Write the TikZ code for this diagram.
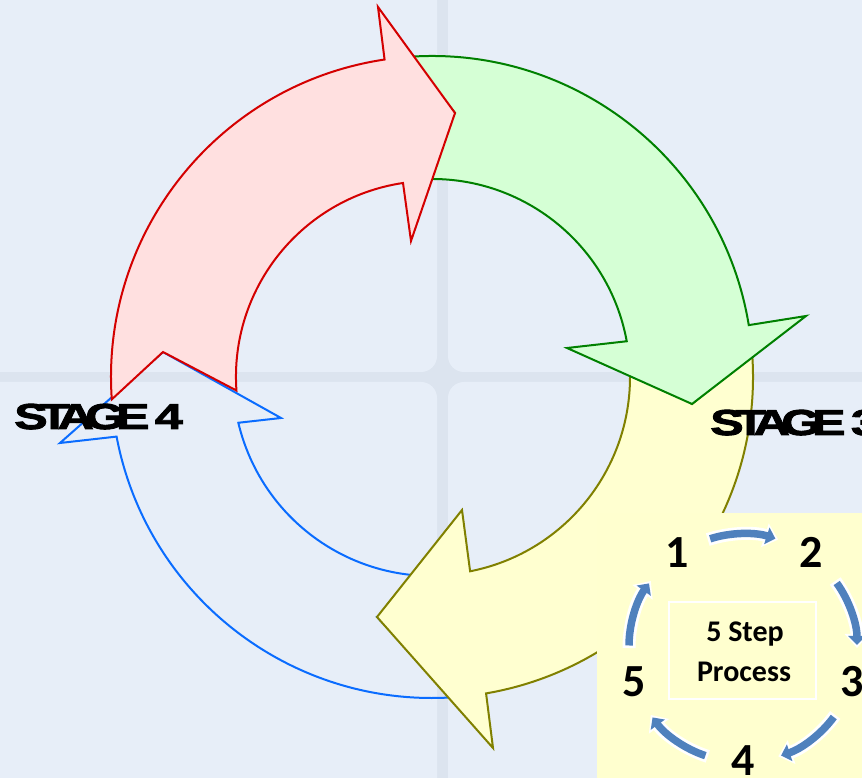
\documentclass[tikz,border=0pt]{standalone}
\usepackage{fontspec}
\usetikzlibrary{arrows.meta}
\newfontfamily\stagefont[LetterSpace=-24,FakeStretch=1.4,BoldFeatures={FakeBold=2.5,LetterSpace=-24,FakeStretch=1.4}]{Liberation Sans}
\newfontfamily\calfont{Carlito}
\definecolor{gapc}{HTML}{DCE4EF}
\definecolor{tilec}{HTML}{E7EEF8}
\definecolor{redS}{HTML}{D40000}
\definecolor{redF}{HTML}{FFE0E0}
\definecolor{greenS}{HTML}{008000}
\definecolor{greenF}{HTML}{D5FFD5}
\definecolor{yelS}{HTML}{808000}
\definecolor{yelF}{HTML}{FFFFD0}
\definecolor{bluS}{HTML}{0A6CFF}
\definecolor{insetF}{HTML}{FFFFCF}
\definecolor{stepB}{HTML}{4F81BD}
\begin{document}
\begin{tikzpicture}[x=1pt,y=1pt,
  arrowline/.style={line width=2pt, line join=miter, miter limit=20},
  redA/.style={arrowline, draw=redS, fill=redF},
  greenA/.style={arrowline, draw=greenS, fill=greenF},
  yelA/.style={arrowline, draw=yelS, fill=yelF},
  bluA/.style={arrowline, draw=bluS},
  tile/.style={fill=tilec, rounded corners=16pt},
  stage/.style={inner sep=0pt, anchor=base west, font=\stagefont\bfseries\fontsize{36}{36}\selectfont},
  digit/.style={inner sep=0pt, anchor=base, font=\calfont\bfseries\fontsize{46}{46}\selectfont},
  steptxt/.style={inner sep=0pt, anchor=base, font=\calfont\bfseries\fontsize{30}{30}\selectfont},
  stepwhite/.style={draw=white, line width=13pt, -{Triangle[width=24pt,length=14pt]}},
  stepblue/.style={draw=stepB, line width=7.5pt, shorten <=2.5pt, shorten >=3pt, -{Triangle[width=17pt,length=9pt]}}
]
\useasboundingbox (0,0) rectangle (862,778);
\clip (0,0) rectangle (862,778);
% background tiles
\fill[gapc] (0,0) rectangle (862,778);
\fill[tile] (-30,406) rectangle (437,808);
\fill[tile] (448,406) rectangle (892,808);
\fill[tile] (-30,-30) rectangle (437,396);
\fill[tile] (448,-30) rectangle (892,396);
% cycle arrows
\begin{scope}[shift={(432,401)}]
\draw[bluA] (-86:321) arc[start angle=-86,end angle=-169.3,radius=321] -- (-372,-66) -- (-269,25) -- (-151,-41) -- (-166.7:199) arc[start angle=-166.7,end angle=-86,radius=199] -- (-55,-240) -- cycle;
\draw[yelA] (4:321) arc[start angle=4,end angle=-80.3,radius=321] -- (61,-371) -- (-55,-240) -- (30,-133) -- (-78.9:198) arc[start angle=-78.9,end angle=4,radius=198] -- (260,-27) -- cycle;
\draw[greenA] (94:321) arc[start angle=94,end angle=9.3,radius=321] -- (374,61) -- (260,-27) -- (135,29) -- (10.4:198) arc[start angle=10.4,end angle=94,radius=198] -- (23,264) -- cycle;
\draw[redA] (184:321) arc[start angle=184,end angle=98.5,radius=321] -- (-54,370) -- (23,264) -- (-21,136) -- (-29,194) arc[start angle=98.5,end angle=184,radius=196] -- (-269,25) -- cycle;
\end{scope}
% stage labels
\node[stage] (s4) at (14,349) {STAGE 4};
\node[stage] (s3) at (710,343) {STAGE 3};
% inset
\fill[insetF] (597,0) rectangle (862,265);
\node[draw=white, line width=1.5pt, minimum width=147pt, minimum height=97pt, inner sep=0pt] (box) at (742.5,127.5) {};
\node[steptxt] (t1) at (745,136) {5 Step};
\node[steptxt] (t2) at (744,96) {Process};
\coordinate (ic) at (743,130);
\node[digit] (n1) at (677,210) {1};
\node[digit] (n2) at (811,210) {2};
\node[digit] (n3) at (852,81) {3};
\node[digit] (n4) at (743,2) {4};
\node[digit] (n5) at (634,81) {5};
\foreach \a in {90,18,-54,-126,-198} {
  \draw[stepwhite] (ic) ++({\a+18}:114) arc[start angle={\a+18}, end angle={\a-18}, radius=114];
  \draw[stepblue] (ic) ++({\a+18}:114) arc[start angle={\a+18}, end angle={\a-18}, radius=114];
}
\end{tikzpicture}
\end{document}
